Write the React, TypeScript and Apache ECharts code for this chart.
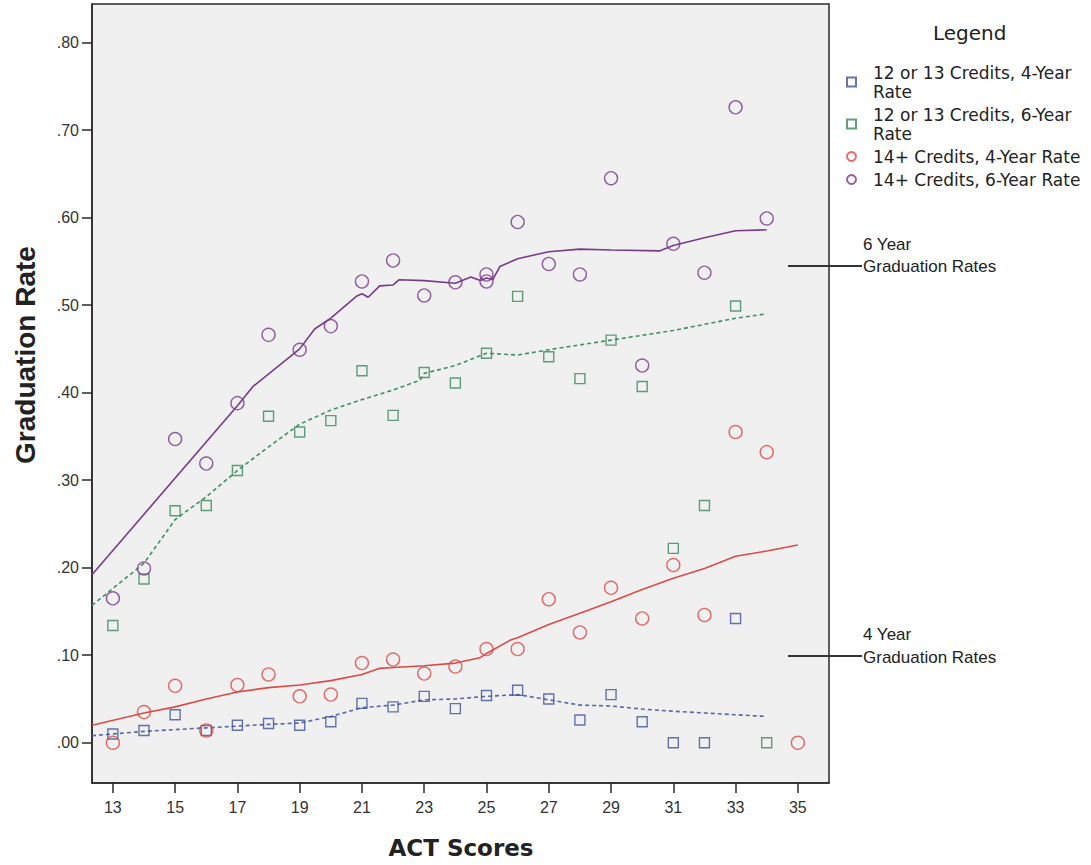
import React, { useEffect, useRef } from "react";
import * as echarts from "echarts";

// Tick labels
const xTicks = [13, 15, 17, 19, 21, 23, 25, 27, 29, 31, 33, 35];
const yTicks = [0, 0.1, 0.2, 0.3, 0.4, 0.5, 0.6, 0.7, 0.8];

// Scatter points [ACT score, graduation rate]
const credits12Rate4: number[][] = [
  [13, 0.010], [14, 0.014], [15, 0.032], [16, 0.014], [17, 0.020], [18, 0.022],
  [19, 0.020], [20, 0.024], [21, 0.045], [22, 0.041], [23, 0.053], [24, 0.039],
  [25, 0.054], [26, 0.060], [27, 0.050], [28, 0.026], [29, 0.055], [30, 0.024],
  [31, 0.0], [32, 0.0], [33, 0.142],
];
const credits12Rate6: number[][] = [
  [13, 0.134], [14, 0.187], [15, 0.265], [16, 0.271], [17, 0.311], [18, 0.373],
  [19, 0.355], [20, 0.368], [21, 0.425], [22, 0.374], [23, 0.423], [24, 0.411],
  [25, 0.445], [26, 0.510], [27, 0.441], [28, 0.416], [29, 0.460], [30, 0.407],
  [31, 0.222], [32, 0.271], [33, 0.499], [34, 0.0],
];
const credits14Rate4: number[][] = [
  [13, 0.0], [14, 0.035], [15, 0.065], [16, 0.014], [17, 0.066], [18, 0.078],
  [19, 0.053], [20, 0.055], [21, 0.091], [22, 0.095], [23, 0.079], [24, 0.087],
  [25, 0.107], [26, 0.107], [27, 0.164], [28, 0.126], [29, 0.177], [30, 0.142],
  [31, 0.203], [32, 0.146], [33, 0.355], [34, 0.332], [35, 0.0],
];
const credits14Rate6: number[][] = [
  [13, 0.165], [14, 0.199], [15, 0.347], [16, 0.319], [17, 0.388], [18, 0.466],
  [19, 0.449], [20, 0.476], [21, 0.527], [22, 0.551], [23, 0.511], [24, 0.526],
  [25, 0.535], [25, 0.527], [26, 0.595], [27, 0.547], [28, 0.535], [29, 0.645],
  [30, 0.431], [31, 0.570], [32, 0.537], [33, 0.726], [34, 0.599],
];

// Fit lines
const fit12Rate4: number[][] = [
  [12.33, 0.008], [14, 0.013], [15, 0.015], [16, 0.017], [17, 0.019], [18, 0.021],
  [19, 0.0225], [20, 0.030], [21, 0.040], [22, 0.043], [23, 0.049], [24, 0.050],
  [25, 0.053], [26, 0.055], [27, 0.049], [28, 0.043], [29, 0.042], [30, 0.0385],
  [31, 0.036], [32, 0.034], [33, 0.032], [34, 0.030],
];
const fit12Rate6: number[][] = [
  [12.33, 0.157], [14, 0.205], [15, 0.255], [16, 0.281], [17, 0.311], [18, 0.338],
  [19, 0.364], [20, 0.380], [21, 0.392], [22, 0.403], [22.86, 0.414], [23, 0.422],
  [24, 0.431], [25, 0.445], [26, 0.443], [27, 0.449], [29, 0.460], [31, 0.471],
  [33, 0.485], [34, 0.490],
];
const fit14Rate4: number[][] = [
  [12.33, 0.020], [14, 0.034], [15, 0.041], [16, 0.050], [17, 0.058], [18, 0.063],
  [19, 0.066], [20, 0.071], [21, 0.078], [21.57, 0.085], [22, 0.086], [23, 0.088],
  [24, 0.091], [24.79, 0.097], [25, 0.102], [25.75, 0.117], [26, 0.120], [27, 0.135],
  [28, 0.148], [29, 0.161], [30, 0.175], [31, 0.188], [32, 0.199], [33, 0.213],
  [34, 0.219], [35, 0.226],
];
const fit14Rate6: number[][] = [
  [12.33, 0.192], [17, 0.385], [17.5, 0.407], [19, 0.450], [19.49, 0.473], [20, 0.485],
  [20.82, 0.510], [21, 0.513], [21.2, 0.509], [21.57, 0.522], [22, 0.523], [22.2, 0.529],
  [23, 0.528], [24, 0.525], [24.5, 0.532], [24.8, 0.528], [25, 0.531], [25.2, 0.529],
  [25.43, 0.544], [26, 0.553], [27, 0.561], [28, 0.564], [29, 0.563], [30.57, 0.562],
  [31, 0.568], [32, 0.577], [33, 0.585], [34, 0.586],
];

const seriesNames = [
  "12 or 13 Credits, 4-Year\nRate",
  "12 or 13 Credits, 6-Year\nRate",
  "14+ Credits, 4-Year Rate",
  "14+ Credits, 6-Year Rate",
];

const BLUE = "#3f5296";
const GREEN = "#35885a";
const RED = "#db4b48";
const PURPLE = "#7a3a8c";

export default function App() {
  const ref = useRef<HTMLDivElement>(null);
  useEffect(() => {
    if (!ref.current) return;
    const chart = echarts.init(ref.current, undefined, { renderer: "svg" });
    const scatter = (name: string, data: number[][], color: string, symbol: string, size: number) => ({
      name,
      type: "scatter",
      data,
      symbol,
      symbolSize: size,
      itemStyle: { color: "rgba(0,0,0,0)", borderColor: color, borderWidth: 1.4 },
      z: 3,
    });
    const fit = (name: string, data: number[][], color: string, dashed: boolean) => ({
      name,
      type: "line",
      data,
      showSymbol: false,
      symbol: "none",
      lineStyle: { color, width: 1.6, type: dashed ? [4, 3] : "solid" },
      z: 2,
    });
    const font = "'Liberation Sans', Arial, sans-serif";
    chart.setOption({
      animation: false,
      backgroundColor: "#ffffff",
      title: {
        text: "Legend",
        left: 928,
        top: 18,
        textStyle: { fontSize: 20, fontWeight: "normal", fontFamily: "'DejaVu Sans', sans-serif", color: "#222" },
      },
      legend: {
        orient: "vertical",
        left: 841,
        top: 58,
        itemWidth: 9,
        itemHeight: 9,
        itemGap: 4,
        data: seriesNames,
        textStyle: {
          fontSize: 17,
          lineHeight: 19,
          padding: [0, 0, 0, 12],
          fontFamily: "'DejaVu Sans', sans-serif",
          color: "#222",
        },
      },
      grid: {
        left: 92,
        top: 4,
        right: 262,
        bottom: 82,
        show: true,
        backgroundColor: "#f0f0f0",
        borderColor: "#2a2a2a",
        borderWidth: 1.5,
      },
      xAxis: {
        type: "value",
        min: 12.33,
        max: 36.0,
        axisLine: { show: true, onZero: false, lineStyle: { color: "#2a2a2a", width: 1.5 } },
        axisTick: { show: true, length: 10, customValues: xTicks, lineStyle: { color: "#2a2a2a", width: 1.5 } },
        axisLabel: { customValues: xTicks, fontSize: 16, color: "#333", margin: 16, fontFamily: font },
        splitLine: { show: false },
      },
      yAxis: {
        type: "value",
        min: -0.046,
        max: 0.844,
        axisLine: { show: true, onZero: false, lineStyle: { color: "#2a2a2a", width: 1.5 } },
        axisTick: { show: true, length: 10, customValues: yTicks, lineStyle: { color: "#2a2a2a", width: 1.5 } },
        axisLabel: {
          customValues: yTicks,
          fontSize: 16,
          color: "#333",
          margin: 13,
          fontFamily: font,
          formatter: (v: number) => v.toFixed(2).replace(/^0\./, "."),
        },
        splitLine: { show: false },
      },
      graphic: [
        {
          type: "text",
          x: 25,
          y: 355,
          rotation: Math.PI / 2,
          style: {
            text: "Graduation Rate",
            font: "bold 28px " + font,
            fill: "#222",
            textAlign: "center",
            textVerticalAlign: "middle",
          },
        },
        {
          type: "text",
          x: 461,
          y: 848,
          style: {
            text: "ACT Scores",
            font: "bold 23px 'DejaVu Sans', sans-serif",
            fill: "#222",
            textAlign: "center",
            textVerticalAlign: "middle",
          },
        },
        { type: "line", shape: { x1: 788, y1: 266, x2: 862, y2: 266 }, style: { stroke: "#333", lineWidth: 2 } },
        { type: "line", shape: { x1: 788, y1: 656, x2: 862, y2: 656 }, style: { stroke: "#333", lineWidth: 2 } },
        {
          type: "text",
          x: 863,
          y: 244,
          style: { text: "6 Year", font: "17px " + font, fill: "#222", textVerticalAlign: "middle" },
        },
        {
          type: "text",
          x: 863,
          y: 266,
          style: { text: "Graduation Rates", font: "17px " + font, fill: "#222", textVerticalAlign: "middle" },
        },
        {
          type: "text",
          x: 863,
          y: 634,
          style: { text: "4 Year", font: "17px " + font, fill: "#222", textVerticalAlign: "middle" },
        },
        {
          type: "text",
          x: 863,
          y: 657,
          style: { text: "Graduation Rates", font: "17px " + font, fill: "#222", textVerticalAlign: "middle" },
        },
      ],
      series: [
        fit("fit 12-13 4yr", fit12Rate4, "#5567ad", true),
        fit("fit 12-13 6yr", fit12Rate6, "#3d9260", true),
        fit("fit 14+ 4yr", fit14Rate4, RED, false),
        fit("fit 14+ 6yr", fit14Rate6, PURPLE, false),
        scatter(seriesNames[0], credits12Rate4, BLUE, "rect", 10),
        scatter(seriesNames[1], credits12Rate6, GREEN, "rect", 10),
        scatter(seriesNames[2], credits14Rate4, RED, "circle", 13),
        scatter(seriesNames[3], credits14Rate6, PURPLE, "circle", 13),
      ],
    });
    return () => chart.dispose();
  }, []);
  return <div ref={ref} style={{ position: "absolute", left: 0, top: 0, width: 1091, height: 865 }} />;
}
